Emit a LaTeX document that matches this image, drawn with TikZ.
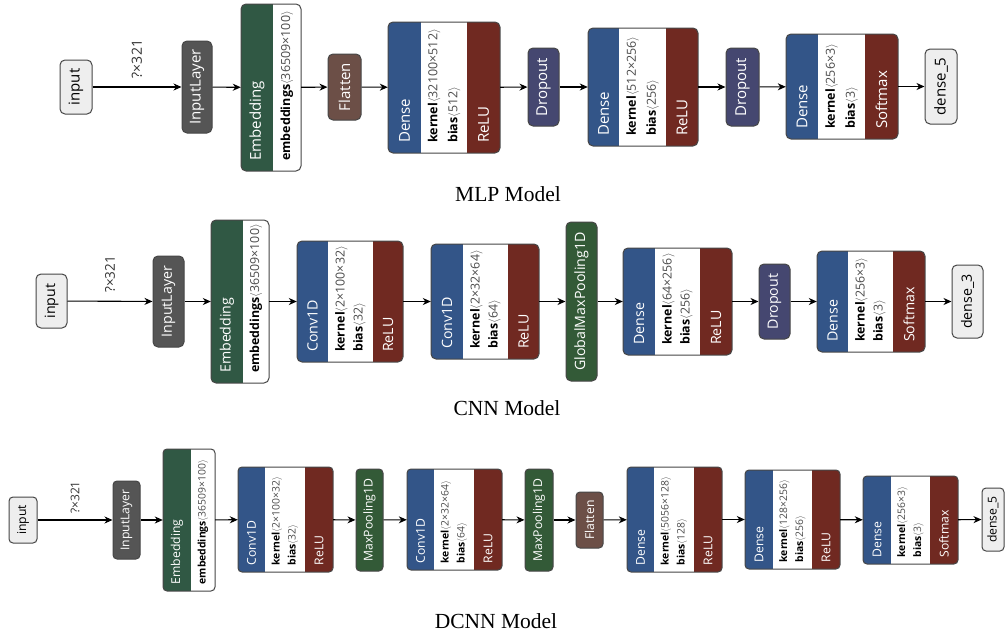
\documentclass[tikz,border=0pt]{standalone}
\usepackage{fontspec}
\usetikzlibrary{arrows.meta}
\newfontfamily\nf{Open Sans}
\newfontfamily\cf{Liberation Serif}
\definecolor{cDense}{RGB}{51,85,136}
\definecolor{cAct}{RGB}{112,41,33}
\definecolor{cDrop}{RGB}{69,71,112}
\definecolor{cShape}{RGB}{108,79,71}
\definecolor{cData}{RGB}{85,85,85}
\definecolor{cEmb}{RGB}{48,88,68}
\definecolor{cPool}{RGB}{51,90,55}
\definecolor{cIO}{RGB}{238,238,238}
\definecolor{cBord}{RGB}{70,70,70}
\def\gbx#1,#2,#3,#4\relax{\def\Bxa{#1}\def\Bya{#2}\def\Bxb{#3}\def\Byb{#4}}
\newcommand{\pval}[1]{{\color{black!70}$\langle$#1$\rangle$}}
% composite layer: name, box, div1, div2, left colour, title, params, activation
\newcommand{\lyr}[8]{%
  \gbx#2\relax
  \node[shell, minimum width={(\Bxb-\Bxa)*1pt}, minimum height={(\Byb-\Bya)*1pt}] (#1) at ({(\Bxa+\Bxb)/2},{(\Bya+\Byb)/2}) {};
  \begin{scope}
    \clip[rounded corners=\rowrc] (\Bxa,\Bya) rectangle (\Bxb,\Byb);
    \fill[#5] (\Bxa,\Bya) rectangle (#3,\Byb);
    \if\relax\detokenize{#8}\relax\else\fill[cAct] (#4,\Bya) rectangle (\Bxb,\Byb);\fi
  \end{scope}
  \draw[bord] (\Bxa,\Bya) rectangle (\Bxb,\Byb);
  \node[ttl] (#1-t) at ({(\Bxa+#3)/2},{\Byb-\rowoff}) {#6};
  \node[prm] (#1-p) at ({(#3+#4)/2},{\Byb-\rowoff}) {#7};
  \if\relax\detokenize{#8}\relax\else\node[ttl] (#1-a) at ({(#4+\Bxb)/2},{\Byb-\rowoff}) {#8};\fi
}
% single layer: name, box, fill, text colour, text
\newcommand{\sbx}[5]{%
  \gbx#2\relax
  \node[sbox, fill=#3, text=#4, minimum width={(\Bxb-\Bxa)*1pt}, minimum height={(\Byb-\Bya)*1pt}] (#1) at ({(\Bxa+\Bxb)/2},{(\Bya+\Byb)/2}) {\rotatebox{90}{#5}};
}
\tikzset{
  shell/.style={rectangle, fill=white, inner sep=0pt},
  bord/.style={draw=cBord, line width=1pt, rounded corners=\rowrc},
  ttl/.style={rotate=90, anchor=west, inner sep=0pt, text=white, font=\ttlfont},
  prm/.style={rotate=90, anchor=west, inner sep=0pt, align=left, text=black, font=\prmfont},
  sbox/.style={rectangle, draw=cBord, line width=1pt, rounded corners=\rowrc, inner sep=0pt, font=\ttlfont},
  arr/.style={-{Stealth[length=8pt,width=7pt,inset=2.5pt]}, line width=1.1pt, black},
  lbl/.style={inner sep=0pt, text=black!80, font=\lblfont},
  capt/.style={inner sep=0pt, font=\cf\fontsize{21.5}{24}\selectfont}
}
\begin{document}
\begin{tikzpicture}[x=1pt,y=-1pt]
\useasboundingbox[fill=white] (0,0) rectangle (1005,637);
% ---------------- MLP ----------------
\def\ttlfont{\nf\fontsize{15}{17}\selectfont}
\def\prmfont{\nf\fontsize{12.5}{20}\selectfont}
\def\lblfont{\nf\fontsize{14}{16}\selectfont}
\def\rowoff{10}
\def\rowrc{5pt}
\sbx{in1}{60,60,92,114}{cIO}{black}{input}
\sbx{il1}{182,41,212,133}{cData}{white}{InputLayer}
\lyr{emb1}{241,4,301,171}{273}{301}{cEmb}{Embedding}{\textbf{embeddings}\pval{36509×100}}{}
\sbx{fl1}{328,54,361,120}{cShape}{white}{Flatten}
\lyr{d11}{388,22,500,153}{421}{467}{cDense}{Dense}{\textbf{kernel}\pval{32100×512}\\\textbf{bias}\pval{512}}{ReLU}
\sbx{do11}{528,48,559,126}{cDrop}{white}{Dropout}
\lyr{d12}{588,28,698,146}{619}{666}{cDense}{Dense}{\textbf{kernel}\pval{512×256}\\\textbf{bias}\pval{256}}{ReLU}
\sbx{do12}{726,48,759,126}{cDrop}{white}{Dropout}
\lyr{d13}{786,34,898,139}{818}{865}{cDense}{Dense}{\textbf{kernel}\pval{256×3}\\\textbf{bias}\pval{3}}{Softmax}
\sbx{out1}{925,49,957,124}{cIO}{black}{dense\_5}
\draw[arr] (in1) -- node[lbl, yshift=28pt] (in1-l) {\rotatebox{90}{?×321}} (il1);
\draw[arr] (il1) -- (emb1);
\draw[arr] (emb1) -- (fl1);
\draw[arr] (fl1) -- (d11);
\draw[arr] (d11) -- (do11);
\draw[arr] (do11) -- (d12);
\draw[arr] (d12) -- (do12);
\draw[arr] (do12) -- (d13);
\draw[arr] (d13) -- (out1);
\node[capt] (cap1) at (508,194) {MLP Model};
% ---------------- CNN ----------------
\def\ttlfont{\nf\fontsize{14.2}{16}\selectfont}
\def\prmfont{\nf\fontsize{12.4}{18}\selectfont}
\def\lblfont{\nf\fontsize{13.5}{15}\selectfont}
\def\rowoff{10}
\def\rowrc{5pt}
\sbx{in2}{36,274,67,328}{cIO}{black}{input}
\sbx{il2}{153,256,184,347}{cData}{white}{InputLayer}
\lyr{emb2}{211,220,269,383}{243}{269}{cEmb}{Embedding}{\textbf{embeddings}\pval{36509×100}}{}
\lyr{c21}{297,241,403,362}{328}{373}{cDense}{Conv1D}{\textbf{kernel}\pval{2×100×32}\\\textbf{bias}\pval{32}}{ReLU}
\lyr{c22}{431,244,539,359}{463}{508}{cDense}{Conv1D}{\textbf{kernel}\pval{2×32×64}\\\textbf{bias}\pval{64}}{ReLU}
\sbx{gp2}{566,222,597,381}{cPool}{white}{GlobalMaxPooling1D}
\lyr{d21}{623,248,732,355}{655}{700}{cDense}{Dense}{\textbf{kernel}\pval{64×256}\\\textbf{bias}\pval{256}}{ReLU}
\sbx{do2}{759,264,790,339}{cDrop}{white}{Dropout}
\lyr{d22}{817,251,925,352}{848}{893}{cDense}{Dense}{\textbf{kernel}\pval{256×3}\\\textbf{bias}\pval{3}}{Softmax}
\sbx{out2}{952,265,983,338}{cIO}{black}{dense\_3}
\draw[arr] (in2) -- node[lbl, yshift=27pt] (in2-l) {\rotatebox{90}{?×321}} (il2);
\draw[arr] (il2) -- (emb2);
\draw[arr] (emb2) -- (c21);
\draw[arr] (c21) -- (c22);
\draw[arr] (c22) -- (gp2);
\draw[arr] (gp2) -- (d21);
\draw[arr] (d21) -- (do2);
\draw[arr] (do2) -- (d22);
\draw[arr] (d22) -- (out2);
\node[capt] (cap2) at (507,408) {CNN Model};
% ---------------- DCNN ----------------
\def\ttlfont{\nf\fontsize{12.2}{14}\selectfont}
\def\prmfont{\nf\fontsize{10.4}{16}\selectfont}
\def\lblfont{\nf\fontsize{12}{14}\selectfont}
\def\rowoff{6.5}
\def\rowrc{4pt}
\sbx{in3}{9,497,37,543}{cIO}{black}{input}
\sbx{il3}{113,481,140,559}{cData}{white}{InputLayer}
\lyr{emb3}{163,449,215,591}{191}{215}{cEmb}{Embedding}{\textbf{embeddings}\pval{36509×100}}{}
\lyr{c31}{238,467,333,572}{265}{305}{cDense}{Conv1D}{\textbf{kernel}\pval{2×100×32}\\\textbf{bias}\pval{32}}{ReLU}
\sbx{mp31}{356,469,383,571}{cPool}{white}{MaxPooling1D}
\lyr{c32}{407,469,502,570}{434}{474}{cDense}{Conv1D}{\textbf{kernel}\pval{2×32×64}\\\textbf{bias}\pval{64}}{ReLU}
\sbx{mp32}{525,469,553,571}{cPool}{white}{MaxPooling1D}
\sbx{fl3}{576,492,603,548}{cShape}{white}{Flatten}
\lyr{d31}{627,467,722,572}{654}{694}{cDense}{Dense}{\textbf{kernel}\pval{5056×128}\\\textbf{bias}\pval{128}}{ReLU}
\lyr{d32}{745,470,840,569}{773}{812}{cDense}{Dense}{\textbf{kernel}\pval{128×256}\\\textbf{bias}\pval{256}}{ReLU}
\lyr{d33}{863,476,958,564}{891}{930}{cDense}{Dense}{\textbf{kernel}\pval{256×3}\\\textbf{bias}\pval{3}}{Softmax}
\sbx{out3}{982,488,1004,551}{cIO}{black}{dense\_5}
\draw[arr] (in3) -- node[lbl, yshift=22.5pt] (in3-l) {\rotatebox{90}{?×321}} (il3);
\draw[arr] (il3) -- (emb3);
\draw[arr] (emb3) -- (c31);
\draw[arr] (c31) -- (mp31);
\draw[arr] (mp31) -- (c32);
\draw[arr] (c32) -- (mp32);
\draw[arr] (mp32) -- (fl3);
\draw[arr] (fl3) -- (d31);
\draw[arr] (d31) -- (d32);
\draw[arr] (d32) -- (d33);
\draw[arr] (d33) -- (out3);
\node[capt] (cap3) at (496,621) {DCNN Model};
\end{tikzpicture}
\end{document}
